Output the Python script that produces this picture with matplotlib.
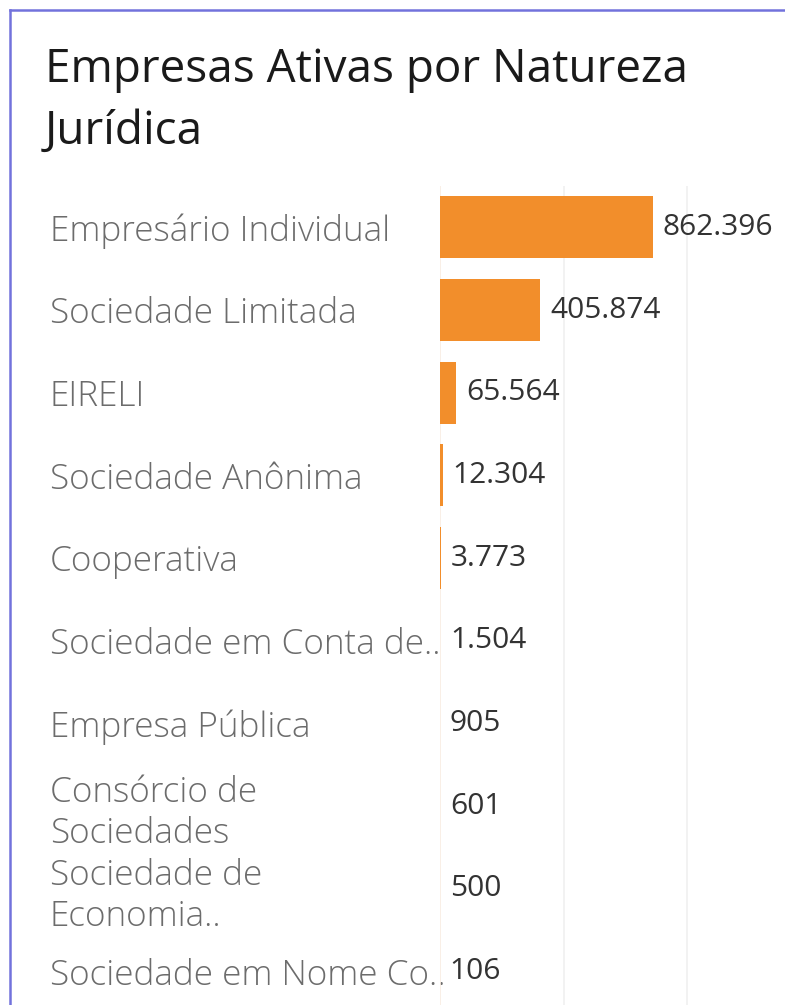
import matplotlib.pyplot as plt
from matplotlib.lines import Line2D

# data
categories = ["Empresário Individual", "Sociedade Limitada", "EIRELI",
              "Sociedade Anônima", "Cooperativa", "Sociedade em Conta de..",
              "Empresa Pública", "Consórcio de\nSociedades",
              "Sociedade de\nEconomia..", "Sociedade em Nome Co.."]
values = [862396, 405874, 65564, 12304, 3773, 1504, 905, 601, 500, 106]
value_labels = ["862.396", "405.874", "65.564", "12.304", "3.773", "1.504",
                "905", "601", "500", "106"]

W, H = 785, 1005
fig = plt.figure(figsize=(W / 100, H / 100), dpi=100)
fig.patch.set_facecolor("white")

# chart area: zero at x=440, 1M at x=687
left, right = 440, 785
top, bottom = 186, 1013
ax = fig.add_axes([left / W, 1 - bottom / H, (right - left) / W, (bottom - top) / H])
ax.set_facecolor("none")
ax.set_xlim(0, (right - left) / 247 * 1e6)
ax.set_ylim(len(categories) - 0.5, -0.5)

ypos = list(range(len(categories)))
ax.barh(ypos, values, height=0.75, color="#f28e2b", zorder=3)

for sp in ax.spines.values():
    sp.set_visible(False)
ax.set_xticks([500000, 1000000])
ax.xaxis.grid(True, color="#f0f0f0", lw=1.2, zorder=0)
ax.tick_params(axis="x", length=0, labelbottom=False)
ax.axvline(0, color="#f8ece2", lw=1.2, zorder=2)

ax.set_yticks(ypos)
ax.set_yticklabels(categories, fontsize=25.3, color="#6c6c6c", family="Open Sans",
                   fontweight="light", ha="left", linespacing=1.25)
ax.tick_params(axis="y", length=0, pad=(left - 50) * 0.72)

for y, v, lab in zip(ypos, values, value_labels):
    ax.annotate(lab, (v, y), xytext=(7, 0), textcoords="offset points",
                va="center", ha="left", fontsize=21.5, color="#333333",
                family="Open Sans")

fig.text(45 / W, 1 - 82 / H, "Empresas Ativas por Natureza", fontsize=33,
         family="Open Sans", color="#1a1a1a", va="baseline", ha="left")
fig.text(45 / W, 1 - 144 / H, "Jurídica", fontsize=33,
         family="Open Sans", color="#1a1a1a", va="baseline", ha="left")

# dashboard frame
fig.add_artist(Line2D([9.5 / W, 9.5 / W], [0, 1 - 10 / H], transform=fig.transFigure,
                      color="#7272dc", lw=1.8))
fig.add_artist(Line2D([9.5 / W, 1], [1 - 10.5 / H, 1 - 10.5 / H], transform=fig.transFigure,
                      color="#7272dc", lw=1.8))

fig.savefig("out.png", dpi=100, facecolor="white")
